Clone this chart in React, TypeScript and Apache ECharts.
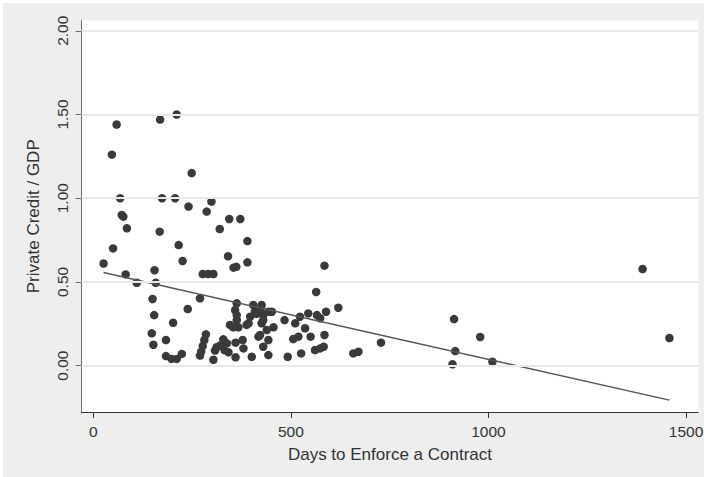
import React, { useEffect, useRef } from "react";
import * as echarts from "echarts";

// Days needed to enforce a contract, one entry per country
const contractDays = [
  26, 47, 50, 59, 68, 72, 76, 85, 82, 110, 148, 150, 152, 154, 155, 158, 168, 169, 174, 184,
  184, 198, 202, 207, 211, 211, 216, 224, 226, 239, 241, 249, 270, 270, 273, 277, 277, 281, 285, 287,
  291, 299, 304, 304, 308, 312, 321, 320, 329, 332, 338, 341, 342, 344, 346, 354, 355, 359, 360, 360,
  362, 363, 363, 363, 367, 372, 378, 380, 388, 390, 390, 393, 397, 401, 405, 409, 413, 418, 422, 422,
  426, 426, 430, 430, 430, 439, 443, 443, 443, 452, 456, 484, 492, 506, 511, 519, 523, 526, 536, 544,
  550, 561, 564, 566, 574, 574, 583, 585, 585, 589, 620, 658, 671, 728, 909, 913, 916, 979, 1010, 1390,
  1458,
];

// Private credit as a share of GDP, same order as contractDays
const privateCredit = [
  0.61, 1.26, 0.7, 1.44, 1.0, 0.9, 0.89, 0.82, 0.545, 0.495, 0.193, 0.398, 0.125, 0.302, 0.57, 0.495, 0.8, 1.47, 1.0, 0.153,
  0.057, 0.04, 0.256, 1.0, 1.5, 0.04, 0.72, 0.07, 0.625, 0.338, 0.95, 1.15, 0.402, 0.06, 0.083, 0.117, 0.547, 0.153, 0.187, 0.92,
  0.547, 0.98, 0.547, 0.035, 0.09, 0.11, 0.12, 0.816, 0.157, 0.093, 0.133, 0.653, 0.08, 0.876, 0.243, 0.229, 0.585, 0.332, 0.137, 0.05,
  0.59, 0.372, 0.302, 0.272, 0.229, 0.876, 0.153, 0.103, 0.243, 0.744, 0.617, 0.253, 0.292, 0.053, 0.362, 0.322, 0.31, 0.173, 0.332, 0.183,
  0.362, 0.253, 0.302, 0.272, 0.113, 0.213, 0.322, 0.153, 0.063, 0.322, 0.229, 0.272, 0.053, 0.159, 0.253, 0.173, 0.292, 0.073, 0.223, 0.312,
  0.173, 0.093, 0.44, 0.302, 0.283, 0.103, 0.113, 0.183, 0.597, 0.322, 0.346, 0.073, 0.083, 0.137, 0.008, 0.278, 0.087, 0.171, 0.023, 0.577,
  0.165,
];

// Fitted regression line endpoints
const fitDays = [26, 1458];
const fitCredit = [0.556, -0.206];

// Axis ticks
const xTicks = [0, 500, 1000, 1500];
const yTicks = [0, 0.5, 1, 1.5, 2];

const FONT = "'Liberation Sans', Arial, sans-serif";
const TEXT = "#333333";

export default function App() {
  const ref = useRef<HTMLDivElement>(null);

  useEffect(() => {
    if (!ref.current) return;
    const chart = echarts.init(ref.current, undefined, { renderer: "svg" });

    const points = contractDays.map((d, i) => [d, privateCredit[i]]);
    const fit = fitDays.map((d, i) => [d, fitCredit[i]]);

    chart.setOption({
      animation: false,
      backgroundColor: "transparent",
      textStyle: { fontFamily: FONT },
      grid: {
        show: true,
        left: 81.6,
        right: 8.7,
        top: 20.5,
        bottom: 65,
        backgroundColor: "#ffffff",
        borderWidth: 0,
        containLabel: false,
      },
      xAxis: {
        type: "value",
        min: -29.6,
        max: 1531,
        name: "Days to Enforce a Contract",
        nameLocation: "middle",
        nameGap: 34,
        nameTextStyle: { fontFamily: FONT, fontSize: 17, color: TEXT },
        axisLine: { show: true, onZero: false, lineStyle: { color: "#333333", width: 1 } },
        axisTick: {
          show: true,
          length: 6,
          customValues: xTicks,
          lineStyle: { color: "#333333", width: 1 },
        },
        axisLabel: {
          customValues: xTicks,
          margin: 11,
          fontFamily: FONT,
          fontSize: 15.5,
          color: TEXT,
          formatter: (v: number) => String(v),
        },
        splitLine: { show: false },
      },
      yAxis: {
        type: "value",
        min: -0.277,
        max: 2.0615,
        name: "Private Credit / GDP",
        nameLocation: "middle",
        nameGap: 40,
        nameRotate: 90,
        nameTextStyle: { fontFamily: FONT, fontSize: 17, color: TEXT },
        axisLine: { show: true, onZero: false, lineStyle: { color: "#6e6e6e", width: 1 } },
        axisTick: {
          show: true,
          length: 6,
          customValues: yTicks,
          lineStyle: { color: "#6e6e6e", width: 1 },
        },
        axisLabel: {
          customValues: yTicks,
          rotate: 90,
          margin: 11,
          fontFamily: FONT,
          fontSize: 15.5,
          color: TEXT,
          formatter: (v: number) => v.toFixed(2),
        },
        splitLine: { show: false },
      },
      series: [
        {
          // horizontal grid lines at the labelled y values
          type: "line",
          data: [],
          z: 1,
          silent: true,
          markLine: {
            silent: true,
            symbol: ["none", "none"],
            label: { show: false },
            lineStyle: { color: "#e9e9e9", width: 2, type: "solid" },
            data: yTicks.map((v) => ({ yAxis: v })),
          },
        },
        {
          type: "scatter",
          data: points,
          z: 3,
          symbol: "circle",
          symbolSize: 8.5,
          itemStyle: { color: "#3a3a3a", opacity: 1 },
        },
        {
          type: "line",
          data: fit,
          z: 4,
          showSymbol: false,
          symbol: "none",
          lineStyle: { color: "#555555", width: 1.5 },
        },
      ],
    });

    return () => chart.dispose();
  }, []);

  return (
    <div
      style={{
        position: "fixed",
        left: 0,
        top: 0,
        width: 707,
        height: 477,
        background: "#ffffff",
      }}
    >
      <div
        style={{
          position: "absolute",
          left: 3,
          top: 3,
          width: 701,
          height: 474,
          background: "#eeeeee",
        }}
      />
      <div ref={ref} style={{ position: "absolute", left: 0, top: 0, width: 707, height: 477 }} />
    </div>
  );
}
